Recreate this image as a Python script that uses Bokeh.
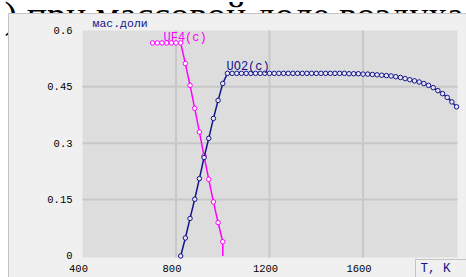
from bokeh.plotting import figure
from bokeh.models import Range1d
from bokeh.core.properties import value
from bokeh.embed import file_html
from bokeh.resources import INLINE

# ---- data ----
caption = ") при массовой доле воздуха"
y_unit = "мас.доли"
x_unit = "T, K"

xticks = [400, 800, 1200, 1600]
xlabels = ["400", "800", "1200", "1600"]
yticks = [0, 0.15, 0.3, 0.45, 0.6]
ylabels = ["0", "0.15", "0.3", "0.45", "0.6"]
x_lo, x_hi = 400, 2004
y_lo, y_hi = -0.004, 0.6

uf4_name = "UF4(c)"
uf4_T = [700, 720, 740, 760, 780, 800, 820, 840, 860, 880, 900, 920, 940, 960, 980, 1000, 1000]
uf4_w = [0.567, 0.567, 0.567, 0.567, 0.567, 0.567, 0.567, 0.512, 0.454, 0.393, 0.330, 0.266,
         0.204, 0.144, 0.089, 0.038, 0.0]

uo2_name = "UO2(c)"
uo2_T = [820, 840, 860, 880, 900, 920, 940, 960, 980, 1000,
         1020, 1040, 1060, 1080, 1100, 1120, 1140, 1160, 1180, 1200,
         1220, 1240, 1260, 1280, 1300, 1320, 1340, 1360, 1380, 1400,
         1420, 1440, 1460, 1480, 1500, 1520, 1540, 1560, 1580, 1600,
         1620, 1640, 1660, 1680, 1700, 1720, 1740, 1760, 1780, 1800,
         1820, 1840, 1860, 1880, 1900, 1920, 1940, 1960, 1980, 2000]
uo2_w = [0.000, 0.048, 0.100, 0.151, 0.206, 0.262, 0.313, 0.366, 0.414, 0.459,
         0.486, 0.486, 0.486, 0.486, 0.486, 0.486, 0.486, 0.486, 0.486, 0.486,
         0.486, 0.486, 0.486, 0.486, 0.486, 0.486, 0.486, 0.486, 0.486, 0.486,
         0.486, 0.486, 0.486, 0.486, 0.486, 0.486, 0.485, 0.485, 0.485, 0.484,
         0.484, 0.483, 0.482, 0.481, 0.480, 0.479, 0.477, 0.475, 0.472, 0.469,
         0.466, 0.463, 0.459, 0.454, 0.448, 0.440, 0.432, 0.422, 0.410, 0.397]

MAG = "#ff00ff"
NAVY = "#14148a"
MONO = value("Liberation Mono")

# ---- layout (pixels of the 466x277 canvas) ----
W, H = 466, 277
PL, PR, PT, PB = 82, 457, 30, 257      # plot area
kx = (x_hi - x_lo) / (PR - PL)
ky = (y_hi - y_lo) / (PB - PT)
xr0 = x_lo - PL * kx
yr1 = y_hi + PT * ky


def X(px):
    return xr0 + px * kx


def Y(py):
    return yr1 - py * ky


p = figure(width=W, height=H, output_backend="svg", toolbar_location=None,
           x_range=Range1d(xr0, X(W)), y_range=Range1d(Y(H), yr1),
           x_axis_type=None, y_axis_type=None, min_border=0)
p.background_fill_color = "white"
p.border_fill_color = "white"
p.outline_line_color = None

# cut-off caption of the document (lower part hidden under the panel)
p.text(x=[X(4)], y=[Y(14)], text=[caption], text_font=value("Liberation Serif"),
       text_font_size="38px", text_color="black", text_baseline="alphabetic",
       text_align="left")

# grey panel (covers the caption's descenders) and plot area
p.quad(left=[X(8)], right=[X(W + 3)], top=[Y(13)], bottom=[Y(H + 3)],
       fill_color="#f0f0f0", line_color="#c4c4c4", line_width=1)
p.quad(left=[x_lo], right=[x_hi], top=[y_hi], bottom=[y_lo],
       fill_color="#dddddd", line_color=None)

# grid lines
gx = xticks[1:]
p.segment(x0=gx, x1=gx, y0=[y_lo] * len(gx), y1=[y_hi] * len(gx),
          line_color="#c8c8c8", line_width=2)
gy = yticks[1:-1]
p.segment(x0=[x_lo] * len(gy), x1=[x_hi] * len(gy), y0=gy, y1=gy,
          line_color="#c8c8c8", line_width=2)

# tick labels
p.text(x=[t - 4 * kx for t in xticks], y=[y_lo - 11 * ky] * len(xticks), text=xlabels,
       text_font=MONO, text_font_size="10.5px", text_color="black",
       text_align="center", text_baseline="middle")
p.text(x=[x_lo - 10 * kx] * len(yticks), y=yticks, text=ylabels,
       text_font=MONO, text_font_size="10.5px", text_color="black",
       text_align="right", text_baseline="alphabetic")

# curves
p.line(uf4_T, uf4_w, line_color=MAG, line_width=1.5)
p.scatter(uf4_T[:-1], uf4_w[:-1], marker="circle", size=4.5, line_color=MAG,
          fill_color="white", line_width=1)
p.line(uo2_T, uo2_w, line_color=NAVY, line_width=1.5)
p.scatter(uo2_T, uo2_w, marker="circle", size=4.5, line_color=NAVY,
          fill_color="#e6e6f2", line_width=1)

# curve names and units
p.text(x=[X(163)], y=[Y(37)], text=[uf4_name], text_color=MAG, text_font=MONO,
       text_font_size="12px", text_baseline="alphabetic")
p.text(x=[X(226)], y=[Y(66)], text=[uo2_name], text_color=NAVY, text_font=MONO,
       text_font_size="12px", text_baseline="alphabetic")
p.text(x=[X(92)], y=[Y(22.5)], text=[y_unit], text_color=NAVY, text_font=MONO,
       text_font_size="11.5px", text_baseline="alphabetic")

# unit box for the T axis
p.quad(left=[X(415)], right=[X(W + 3)], top=[Y(259)], bottom=[Y(H + 3)],
       fill_color="#f0f0f0", line_color="#c4c4c4", line_width=1)
p.text(x=[X(420)], y=[Y(268)], text=[x_unit], text_color=NAVY, text_font=MONO,
       text_font_size="12.5px", text_baseline="middle")

open("out.html", "w").write(file_html(p, INLINE))
